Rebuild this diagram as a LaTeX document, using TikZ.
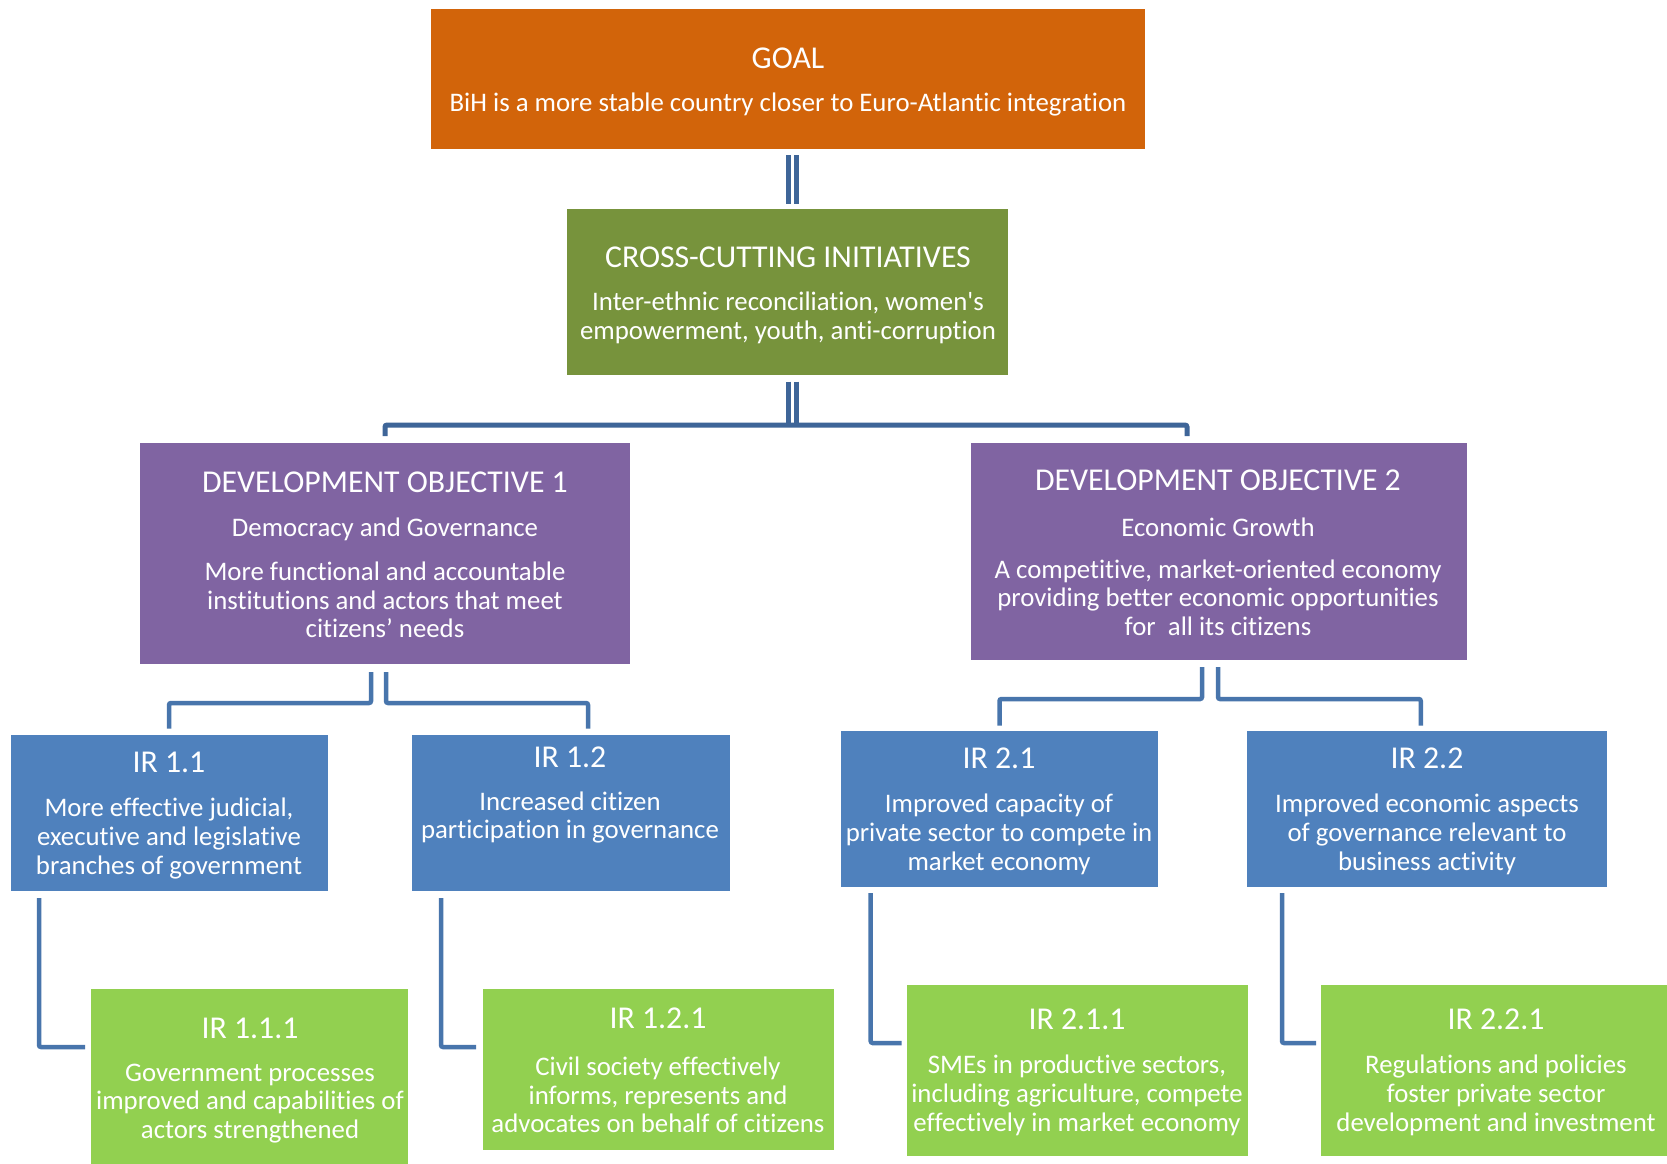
\documentclass[tikz,border=0pt]{standalone}
\usepackage{fontspec}
\setmainfont{Carlito}[Ligatures=NoCommon]
\definecolor{goalc}{RGB}{210,100,10}
\definecolor{ccc}{RGB}{119,147,60}
\definecolor{doc}{RGB}{128,100,162}
\definecolor{irc}{RGB}{79,129,189}
\definecolor{subc}{RGB}{146,208,80}
\definecolor{linec}{RGB}{72,117,172}
\definecolor{dlinec}{RGB}{62,101,152}
\begin{document}
\begin{tikzpicture}[x=1pt,y=-1pt,
  box/.style={draw=none, inner sep=0pt, outer sep=0pt, anchor=north west, rectangle},
  ttl/.style={text=white, font=\fontsize{31.8}{34}\selectfont, inner sep=0pt, yshift=-2pt},
  txt/.style={text=white, font=\fontsize{26.8}{28.7}\selectfont, align=center, inner sep=0pt, yshift=-2.5pt},
  conn/.style={draw=linec, line width=4.5pt, rounded corners=2pt},
  dbl/.style={draw=dlinec, line width=5pt, rounded corners=2pt}]
\useasboundingbox (0,0) rectangle (1667,1163);
\clip (0,0) rectangle (1667,1163);
\fill[white] (0,0) rectangle (1667,1163);

% boxes
\node[box, fill=goalc, minimum width=714pt, minimum height=140.5pt] (goal) at (431,8.5) {};
\node[box, fill=ccc, minimum width=441pt, minimum height=166pt] (cc) at (567,208.5) {};
\node[box, fill=doc, minimum width=490pt, minimum height=221pt] (do1) at (140,443) {};
\node[box, fill=doc, minimum width=496pt, minimum height=217pt] (do2) at (971,443) {};
\node[box, fill=irc, minimum width=317pt, minimum height=156.5pt] (ir11) at (10.5,734.5) {};
\node[box, fill=irc, minimum width=318pt, minimum height=156.5pt] (ir12) at (411.5,734.5) {};
\node[box, fill=irc, minimum width=317pt, minimum height=156pt] (ir21) at (841,730.5) {};
\node[box, fill=irc, minimum width=359.5pt, minimum height=156pt] (ir22) at (1247,730.5) {};
\node[box, fill=subc, minimum width=317pt, minimum height=180pt] (ir111) at (91,988.5) {};
\node[box, fill=subc, minimum width=351pt, minimum height=161.5pt] (ir121) at (482.5,988.5) {};
\node[box, fill=subc, minimum width=341pt, minimum height=171pt] (ir211) at (907,984.5) {};
\node[box, fill=subc, minimum width=350pt, minimum height=171pt] (ir221) at (1321,984.5) {};

% texts
\node[ttl] (goalT) at (788,56) {GOAL};
\node[txt] (goalB) at (788,102) {BiH is a more stable country closer to Euro-Atlantic integration};
\node[ttl] (ccT) at (788,255) {CROSS-CUTTING INITIATIVES};
\node[txt] (ccB) at (788,315.5) {Inter-ethnic reconciliation, women\textquotesingle s\\empowerment, youth, anti-corruption};
\node[ttl] (do1T) at (385,480.5) {DEVELOPMENT OBJECTIVE 1};
\node[txt] (do1S) at (385,527) {Democracy and Governance};
\node[txt] (do1B) at (385,597.5) {More functional and accountable\\institutions and actors that meet\\citizens’ needs};
\node[ttl] (do2T) at (1218,478) {DEVELOPMENT OBJECTIVE 2};
\node[txt] (do2S) at (1218,525) {Economic Growth};
\node[txt] (do2B) at (1218,595) {A competitive, market-oriented economy\\providing better economic opportunities\\for~ all its citizens};
\node[ttl] (ir11T) at (169,760) {IR 1.1};
\node[txt] (ir11B) at (169,836) {More effective judicial,\\executive and legislative\\branches of government};
\node[ttl] (ir12T) at (570,755) {IR 1.2};
\node[txt] (ir12B) at (570,815) {Increased citizen\\participation in governance};
\node[ttl] (ir21T) at (999,756) {IR 2.1};
\node[txt] (ir21B) at (999,832) {Improved capacity of\\private sector to compete in\\market economy};
\node[ttl] (ir22T) at (1427,756) {IR 2.2};
\node[txt] (ir22B) at (1427,832) {Improved economic aspects\\of governance relevant to\\business activity};
\node[ttl] (ir111T) at (250,1026) {IR 1.1.1};
\node[txt] (ir111B) at (250,1101) {Government processes\\improved and capabilities of\\actors strengthened};
\node[ttl] (ir121T) at (658,1016) {IR 1.2.1};
\node[txt] (ir121B) at (658,1092.5) {Civil society effectively\\informs, represents and\\advocates on behalf of citizens};
\node[ttl] (ir211T) at (1077,1017.5) {IR 2.1.1};
\node[txt] (ir211B) at (1077,1093) {SMEs in productive sectors,\\including agriculture, compete\\effectively in market economy};
\node[ttl] (ir221T) at (1496,1017.5) {IR 2.2.1};
\node[txt] (ir221B) at (1496,1093) {Regulations and policies\\foster private sector\\development and investment};

% double connectors
\draw[dbl] ([xshift=0pt,yshift=-6pt]goal.south) -- ([xshift=0.5pt,yshift=5pt]cc.north);
\draw[dbl] ([xshift=8pt,yshift=-6pt]goal.south) -- ([xshift=8.5pt,yshift=5pt]cc.north);
\coordinate (barL) at (385,436);
\coordinate (barR) at (1187,436);
\draw[dbl] (barL) -- (385,425) -- (1187,425) -- (barR);
\draw[dbl] ([xshift=0.5pt,yshift=-7pt]cc.south) -- ([xshift=0.5pt,yshift=-50pt]cc.south);
\draw[dbl] ([xshift=8.5pt,yshift=-7pt]cc.south) -- ([xshift=8.5pt,yshift=-50pt]cc.south);

% DO to IR
\draw[conn] ([xshift=-14pt,yshift=-8pt]do1.south) -- ++(0,31) -| ([yshift=6pt]ir11.north);
\draw[conn] ([xshift=1pt,yshift=-8pt]do1.south) -- ++(0,31) -| ([xshift=17.5pt,yshift=6pt]ir12.north);
\draw[conn] ([xshift=-17pt,yshift=-7pt]do2.south) -- ++(0,32) -| ([yshift=5pt]ir21.north);
\draw[conn] ([xshift=-1pt,yshift=-7pt]do2.south) -- ++(0,32) -| ([xshift=-6pt,yshift=5pt]ir22.north);

% IR to sub-IR
\draw[conn] ([xshift=28.5pt,yshift=-7pt]ir11.south west) |- ([xshift=-6pt,yshift=-58.5pt]ir111.north west);
\draw[conn] ([xshift=29.5pt,yshift=-7pt]ir12.south west) |- ([xshift=-6.5pt,yshift=-58.5pt]ir121.north west);
\draw[conn] ([xshift=29.7pt,yshift=-6.5pt]ir21.south west) |- ([xshift=-5.5pt,yshift=-58.5pt]ir211.north west);
\draw[conn] ([xshift=35pt,yshift=-6.5pt]ir22.south west) |- ([xshift=-5pt,yshift=-58.5pt]ir221.north west);
\end{tikzpicture}
\end{document}
